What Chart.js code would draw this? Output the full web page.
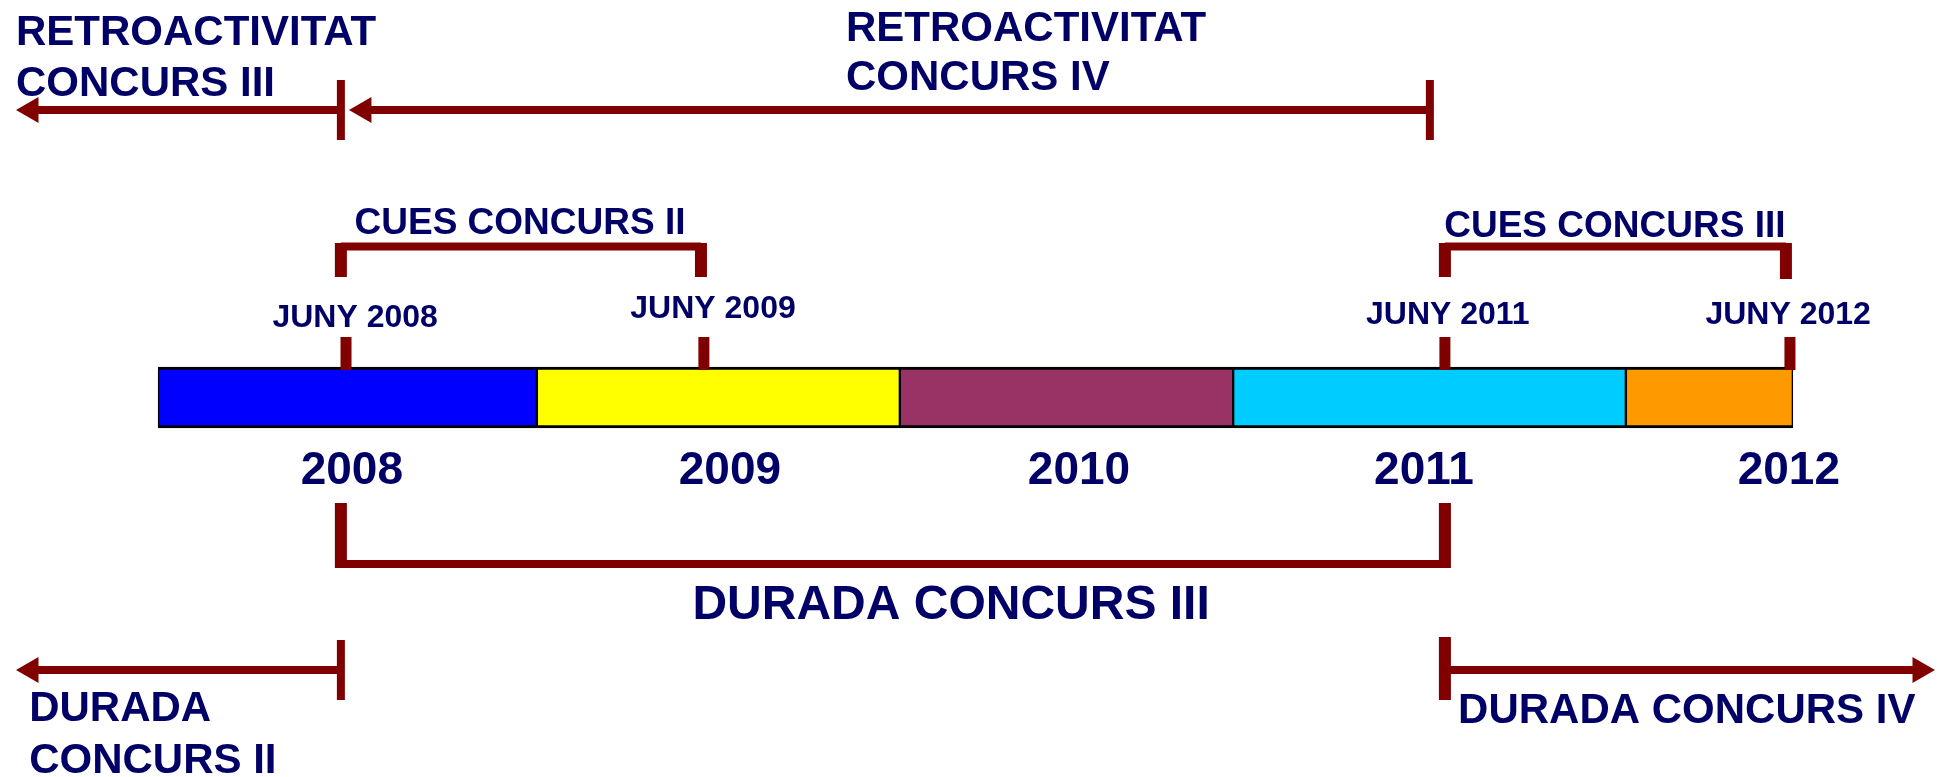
<!DOCTYPE html>
<html>
<head>
<meta charset="utf-8">
<script src="https://cdn.jsdelivr.net/npm/chart.js@4.4.1/dist/chart.umd.min.js"></script>
<style>
  html, body { margin: 0; padding: 0; background: #ffffff; }
  #wrap { width: 1942px; height: 777px; position: relative; }
</style>
</head>
<body>
<div id="wrap"><canvas id="c"></canvas></div>
<script>
// ---------------- DATA (x values are dates in decimal years) ----------------
const years       = ['2008', '2009', '2010', '2011', '2012'];
const yearStarts  = [2007.987, 2009.021, 2010.012, 2010.922, 2011.994];
const yearEnds    = [2009.021, 2010.012, 2010.922, 2011.994, 2012.450];
const yearLabelAt = [2008.516, 2009.548, 2010.501, 2011.443, 2012.439];

const milestoneLabels = ['JUNY 2008', 'JUNY 2009', 'JUNY 2011', 'JUNY 2012'];
const milestoneDates  = [2008.500, 2009.477, 2011.500, 2012.442];
const milestoneLabelAt = [2008.525, 2009.502, 2011.508, 2012.437];

const bracketLabels  = ['CUES CONCURS II', 'CUES CONCURS III', 'DURADA CONCURS III'];
const bracketStarts  = [2008.486, 2011.500, 2008.486];
const bracketEnds    = [2009.469, 2012.431, 2011.500];
const bracketLabelAt = [2008.975, 2011.964, 2010.152];

const arrowLabels  = [['RETROACTIVITAT', 'CONCURS III'], ['RETROACTIVITAT', 'CONCURS IV'], ['DURADA', 'CONCURS II'], ['DURADA CONCURS IV']];
const arrowFrom    = [2008.486, 2011.459, 2008.486, 2011.500];
const arrowTo      = [2007.640, 2008.549, 2007.640, 2012.797];
const arrowLabelAt = [2007.599, 2009.865, 2007.635, 2011.536];

// ---------------- LAYOUT / STYLE (not data) ----------------
const VIEW = { xMin: 2007.5554, xMax: 2012.8571 };
const MAROON = '#800000', NAVY = '#000066';
const FONT = '"Liberation Sans", Arial, Helvetica, sans-serif';
const yearColors = ['#0000FF', '#FFFF00', '#993366', '#00CCFF', '#FF9900'];
// vertical lanes, in % of height from the top
const LANE = {
  bar: 51.16,
  msTickTop: 43.37, msTickBot: 47.62,
  yearText: 62.29,
  msText: [42.08, 40.93, 41.70, 41.70],
  bracket: [
    { row: 31.72, stemTop: 31.27, stemBotL: 35.65, stemBotR: 35.65, text: 30.12, size: 37 },
    { row: 31.72, stemTop: 31.27, stemBotL: 35.65, stemBotR: 35.91, text: 30.50, size: 37 },
    { row: 72.59, stemTop: 64.74, stemBotL: 73.10, stemBotR: 73.10, text: 79.67, size: 48 }
  ],
  arrow: [
    { row: 14.16, tickTop: 10.30, tickBot: 18.02, tickW: 8, text: [5.79, 12.36] },
    { row: 14.16, tickTop: 10.30, tickBot: 18.02, tickW: 8, text: [5.28, 11.58] },
    { row: 86.23, tickTop: 82.37, tickBot: 90.09, tickW: 8, text: [92.79, 99.49] },
    { row: 86.23, tickTop: 81.98, tickBot: 90.09, tickW: 12, text: [93.05] }
  ]
};

// ---------------- BUILD DATASETS ----------------
const datasets = [];
function seg(x1, y1, x2, y2, w) {
  datasets.push({
    type: 'line', data: [{ x: x1, y: y1 }, { x: x2, y: y2 }],
    borderColor: MAROON, borderWidth: w, borderCapStyle: 'butt',
    pointRadius: 0, fill: false, tension: 0, order: 0, clip: false
  });
}
function head(x, y, dir) {
  datasets.push({
    type: 'line', data: [{ x: x, y: y }], showLine: false,
    pointStyle: 'triangle', pointRadius: 15, pointRotation: dir < 0 ? -90 : 90,
    pointBackgroundColor: MAROON, pointBorderColor: MAROON, pointBorderWidth: 0, order: 0, clip: false
  });
}

// timeline bar
datasets.push({
  type: 'bar', indexAxis: 'y',
  data: years.map((_, i) => ({ x: [yearStarts[i], yearEnds[i]], y: LANE.bar })),
  backgroundColor: yearColors, borderColor: '#000000',
  borderWidth: { top: 3, bottom: 3, left: 1.5, right: 1.5 },
  borderSkipped: false, barThickness: 61, grouped: false, order: 1
});

// milestone ticks
milestoneDates.forEach(d => seg(d, LANE.msTickTop, d, LANE.msTickBot, 11));

// brackets
bracketLabels.forEach((_, i) => {
  const b = LANE.bracket[i];
  seg(bracketStarts[i], b.row, bracketEnds[i], b.row, 8);
  seg(bracketStarts[i], b.stemTop, bracketStarts[i], b.stemBotL, 12);
  seg(bracketEnds[i], b.stemTop, bracketEnds[i], b.stemBotR, 12);
});

// arrows
arrowLabels.forEach((_, i) => {
  const a = LANE.arrow[i];
  seg(arrowFrom[i], a.row, arrowTo[i], a.row, 8);
  seg(arrowFrom[i], a.tickTop, arrowFrom[i], a.tickBot, a.tickW);
  head(arrowTo[i], a.row, arrowTo[i] < arrowFrom[i] ? -1 : 1);
});

// ---------------- TEXTS ----------------
const TEXTS = [];
years.forEach((t, i) => TEXTS.push({ text: t, x: yearLabelAt[i], y: LANE.yearText, size: 46, align: 'center' }));
milestoneLabels.forEach((t, i) => TEXTS.push({ text: t, x: milestoneLabelAt[i], y: LANE.msText[i], size: 32, align: 'center' }));
bracketLabels.forEach((t, i) => TEXTS.push({ text: t, x: bracketLabelAt[i], y: LANE.bracket[i].text, size: LANE.bracket[i].size, align: 'center' }));
arrowLabels.forEach((lines, i) => lines.forEach((t, k) =>
  TEXTS.push({ text: t, x: arrowLabelAt[i], y: LANE.arrow[i].text[k], size: 42, align: 'left' })));

const textPlugin = {
  id: 'timelineTexts',
  afterDatasetsDraw(chart) {
    const { ctx, scales } = chart;
    ctx.save();
    ctx.fillStyle = NAVY;
    ctx.textBaseline = 'alphabetic';
    TEXTS.forEach(t => {
      ctx.font = 'bold ' + t.size + 'px ' + FONT;
      ctx.textAlign = t.align;
      ctx.fillText(t.text, scales.x.getPixelForValue(t.x), scales.y.getPixelForValue(t.y));
    });
    ctx.restore();
  }
};

new Chart(document.getElementById('c'), {
  type: 'scatter',
  data: { datasets },
  options: {
    responsive: true, maintainAspectRatio: false, animation: false, events: [],
    layout: { padding: 0, autoPadding: false },
    plugins: { legend: { display: false }, tooltip: { enabled: false } },
    scales: {
      x: { type: 'linear', min: VIEW.xMin, max: VIEW.xMax, display: false, offset: false },
      y: { type: 'linear', min: 0, max: 100, reverse: true, display: false, offset: false }
    }
  },
  plugins: [textPlugin]
});
</script>
</body>
</html>
